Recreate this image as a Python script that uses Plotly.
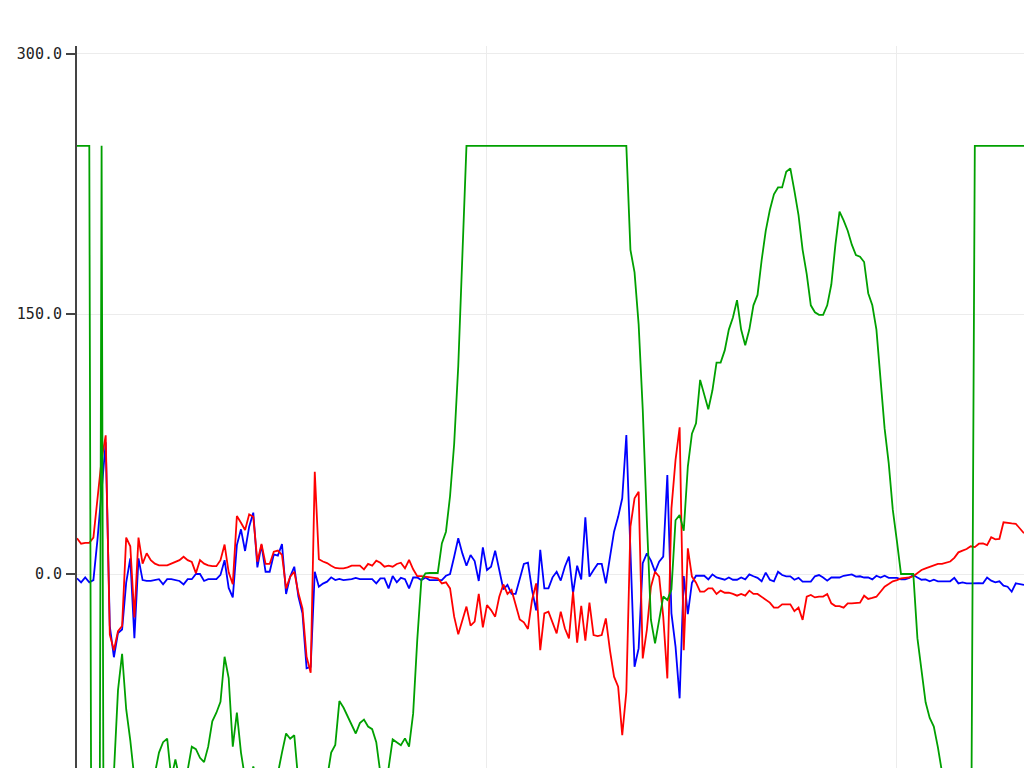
import plotly.graph_objects as go

# ---- data ----
red = [20.6, 17.5, 18, 18, 21, 42, 66, 80, -35, -44,
       -33, -30, 21, 16, -25, 21, 6, 12, 8, 6,
       5, 5, 5, 6, 7, 8, 10, 8, 7, 0.5,
       8, 6, 5, 4.5, 4.5, 8, 17, 1, -5.8, 33.5,
       29.6, 25.4, 34.4, 33, 7.1, 17.3, 5.8, 5.8, 12.9, 13.5,
       11, -8.3, -1.5, 1.3, -11, -19.8, -47.7, -57, 59, 8.5,
       7.2, 6.3, 4.8, 3.5, 3.3, 3.3, 3.8, 4.8, 4.8, 4.8,
       2.7, 5.8, 4.8, 7.7, 6.5, 4.2, 4.8, 4.2, 5.8, 6.5,
       3.3, 8.1, 2.7, -1.2, -1.2, -1.5, -1.9, -1.9, -2.5, -5.4,
       -4.8, -8.3, -24.6, -34.8, -27.5, -18.8, -29.8, -27.5, -11.5, -30.8,
       -17.9, -20.8, -24.6, -13.1, -6, -11.5, -9.2, -17.9, -26.2, -27.9,
       -31.7, -15, -5.4, -43.9, -22.7, -21.7, -28.5, -34.2, -21.7, -31.3,
       -37.1, -10.2, -39.6, -18.3, -38.5, -16.5, -35.2, -35.8, -35.2, -25.6,
       -43.9, -59.2, -65, -92.9, -67.9, 27.3, 43.7, 47.5, -48.7, -32.3,
       -7.3, 1.3, -1.5, -24.6, -60.2, 37.9, 65.8, 84.6, -43.9, 14.8,
       -1.5, -5, -10.2, -10.2, -8.3, -8.3, -11.5, -9.6, -10.8, -10.8,
       -11.5, -12.5, -11.5, -12.5, -9.6, -11.5, -11.5, -13.1, -14.6, -16.5,
       -19.4, -19.4, -17.5, -17.5, -17.5, -21.4, -19.4, -26.5, -13.1, -12.1,
       -13.5, -13, -13, -11.5, -16.9, -18.5, -18.5, -19.4, -16.9, -16.9,
       -16.9, -16.5, -12.5, -14.4, -13.8, -13.1, -10.2, -7.3, -5.8, -4.2,
       -3.5, -2.5, -2.2, -2, -1.2, 0.8, 2.3, 3.3, 4.2, 5.2,
       5.8, 5.8, 6.5, 7.2, 9.3, 12.5, 13.5, 14.4, 16, 15.5,
       17.5, 17.7, 16.7, 21.2, 20, 20.3, 29.8, 29.3, 29.2, 29,
       26, 23.5]

blue = [-2.5, -4.8, -2, -4.8, -3.5, 20, 48, 76, -30, -48,
        -34, -32, -5, 9, -37, 9, -3.5, -4, -4, -3.5,
        -3, -6, -3, -3, -3.5, -4, -6, -3, -3, 0,
        0, -4, -3, -3, -3, -0.5, 8, -8, -13.5, 16.7,
        25.8, 13.3, 27.3, 35.4, 3.8, 16.7, 1.3, 1.3, 11.3, 10.6,
        17.3, -11.5, -1.5, 4.2, -13, -22.7, -54.4, -53.5, 1.3, -7.3,
        -5.5, -4.4, -1.9, -3.5, -2.8, -3.5, -3.2, -3, -2.2, -3,
        -3, -3, -3, -5.4, -2.5, -2.5, -8.3, -1.2, -4.8, -2.2,
        -3, -8.3, -2, -2, -3.5, -2, -3.5, -3.5, -3.5, -3.5,
        -1, 0, 10, 20.6, 11.9, 4.8, 11, 7.5, -4, 15.4,
        2.3, 4.2, 13.5, 2.3, -8.8, -6.3, -11.5, -11.5, -3.5, 5.8,
        6.5, -9.2, -21, 13.9, -8.3, -8.3, -1.9, 1.3, -3.8, 4.2,
        10, -11.2, 4.8, -3.1, 32.7, -1.5, 2.3, 5.8, 5.8, -5.4,
        9.6, 24.4, 33, 43.7, 80.2, 8.1, -53.5, -42.9, 6.2, 11.9,
        7.7, 1.3, 7.1, 10, 57.1, -22.7, -41.9, -71.7, -1.2, -23.1,
        -5, -1, -1, -1, -3.1, -0.2, -2, -2.7, -3.3, -2,
        -3.3, -3.3, -2, -3.1, -0.2, -1.3, -2.2, -4.2, 0.8, -3.3,
        -4.2, 1.3, -0.6, -1.3, -1.3, -3.3, -2.2, -4.4, -4.4, -4.4,
        -1.3, -0.6, -2, -3.8, -2, -2, -2, -1, -0.6, -0.2,
        -1.5, -1.3, -2, -2, -3.1, -1, -2, -1, -2.2, -2.2,
        -2.2, -3.1, -3.1, -2.2, -0.6, -2, -3.3, -3.1, -4.2, -3.3,
        -4.2, -4.2, -4.2, -4.2, -2.2, -5.4, -4.8, -5.4, -5.4, -5.2,
        -5.2, -5.4, -2, -3.8, -4.8, -4.2, -6.7, -7.3, -10.2, -5.4,
        -5.8, -6.3]

green = ([247, 247, 247, 247, -600, -600, 247, -600, -200, -115,
          -67, -46, -78, -96, -118, -125, -130, -128, -122, -115,
          -103, -97, -95, -118, -107, -118, -120, -113, -99.6, -101,
          -106, -108.5, -99.6, -85, -80, -73.7, -47.7, -60, -99.6, -80,
          -103, -118, -125, -111, -120, -128, -132, -128, -122, -115,
          -103, -92, -95, -93, -120, -128, -135, -130, -120, -125,
          -130, -118, -103, -98.6, -73.3, -77, -82, -86, -92, -86,
          -84, -88, -89.5, -97, -115, -120, -112, -95.4, -97, -98.7,
          -94.8, -99.6, -80.4, -38, -3.5, 0.4, 0.6, 0.6, 0.6, 17.7,
          24.4, 45, 75, 120, 185]
         + [247] * 40
         + [187, 174, 144, 95, 31,
            -26.5, -40, -26.5, -13, -15, -9, 31, 34, 25, 62,
            81, 87, 112, 104, 95, 106, 122, 122, 129, 141,
            148, 158, 141, 132, 141, 155, 161, 181, 198, 210,
            219, 223, 223, 232, 234, 221, 207, 187, 173, 155,
            151, 149.5, 149.5, 155, 167, 190, 209, 204, 198, 190,
            184, 183, 180, 162, 155, 141, 112, 84, 64, 37,
            19, 0, 0, 0, 0, -37, -55, -74, -83, -88,
            -100, -113, -128, -143, -158, -172, -186, -200, -213]
         + [247] * 13)

x = list(range(len(red)))

y_ticks = [0, 150, 300]
y_tick_labels = ["0.0", "150.0", "300.0"]

fig = go.Figure()
fig.add_trace(go.Scatter(x=x, y=blue, mode="lines",
                         line=dict(color="rgb(0,0,255)", width=1.8), showlegend=False))
fig.add_trace(go.Scatter(x=x, y=red, mode="lines",
                         line=dict(color="rgb(255,0,0)", width=1.8), showlegend=False))
fig.add_trace(go.Scatter(x=x, y=green, mode="lines",
                         line=dict(color="rgb(0,160,0)", width=1.8), showlegend=False))

fig.update_layout(
    width=1024, height=768,
    margin=dict(l=77, r=0, t=46, b=0, pad=0),
    paper_bgcolor="white", plot_bgcolor="white",
    font=dict(family="DejaVu Sans Mono", size=15, color="#222"),
    xaxis=dict(range=[0, 231], dtick=100, tick0=0, showgrid=True,
               gridcolor="#ececec", gridwidth=1, zeroline=False,
               showline=False, showticklabels=False, ticks="", automargin=False),
    yaxis=dict(range=[-111.9, 304.6], tickvals=y_ticks, ticktext=y_tick_labels,
               showgrid=True, gridcolor="#ececec", gridwidth=1, zeroline=False,
               showline=True, linecolor="#444", linewidth=2,
               ticks="outside", ticklen=9, tickwidth=1.5, tickcolor="#444",
               ticklabelstandoff=1, automargin=False),
)

fig.write_html(
    "out.html",
    config={"displayModeBar": False},
    post_script="document.body.style.margin='0';document.body.style.overflow='hidden';",
)
